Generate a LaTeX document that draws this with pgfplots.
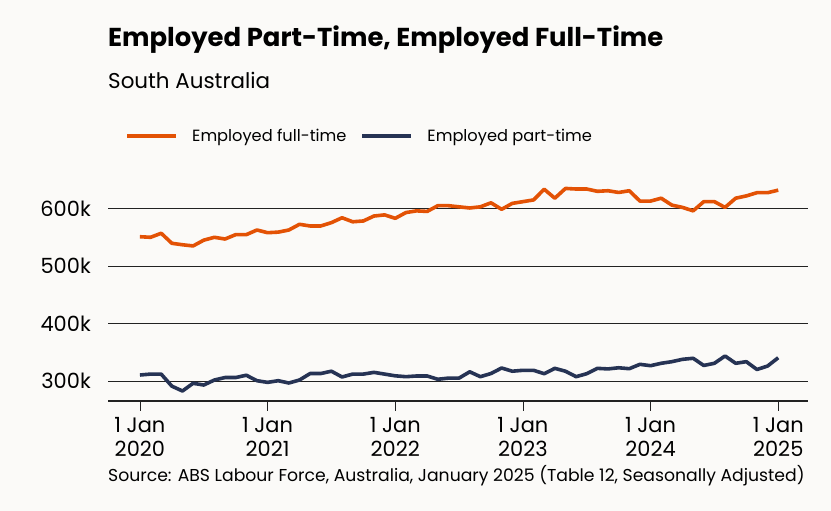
\documentclass[border=0pt]{standalone}
\usepackage{fontspec}
\setmainfont{Poppins}
\usepackage{pgfplots}
\pgfplotsset{compat=1.18}
\definecolor{bg}{HTML}{FBFAF8}
\definecolor{ftc}{HTML}{E35205}
\definecolor{ptc}{HTML}{263354}
\definecolor{gridc}{HTML}{222222}
\pgfplotstableread{
i v
0 551
1 550
2 557
3 539.6
4 537
5 535
6 545
7 550
8 547
9 554.6
10 554.6
11 562.7
12 558
13 559
14 562.7
15 572.6
16 569.7
17 569.7
18 575.5
19 584
20 577
21 578.4
22 587
23 589
24 583
25 593
26 596
27 595
28 605
29 605
30 603
31 601
32 603
33 610
34 598.7
35 609
36 612
37 615
38 633.6
39 618
40 635
41 634
42 634
43 630
44 631
45 628
46 631
47 613
48 613
49 618
50 606
51 602
52 596
53 612
54 612
55 602
56 618
57 622
58 627.6
59 627.6
60 632
}\fulltime
\pgfplotstableread{
i v
0 310.4
1 312
2 312
3 291
4 282.6
5 296
6 293
7 301.7
8 306
9 306
10 310
11 300.5
12 297.6
13 300.5
14 296.5
15 301.7
16 313
17 313
18 317
19 307
20 312
21 312
22 315
23 312
24 309
25 307.5
26 308.7
27 308.7
28 303
29 305
30 305
31 316
32 307.5
33 313
34 322.6
35 317
36 318.6
37 318.6
38 312.7
39 322
40 317
41 307.5
42 312.7
43 322
44 321
45 323
46 321.4
47 329
48 326.6
49 330.8
50 333.6
51 337.7
52 339.5
53 327
54 330.8
55 343.5
56 330.8
57 333.6
58 320
59 326
60 340.5
}\parttime
\begin{document}
\begin{tikzpicture}[x=1bp,y=1bp]
\fill[bg] (0,0) rectangle (831,511);
\node[anchor=base west, inner sep=0, font=\fontsize{26}{30}\selectfont\bfseries] at (108,464) {Employed Part-Time, Employed Full-Time};
\node[anchor=base west, inner sep=0, font=\fontsize{21.5}{25}\selectfont] at (108,422) {South Australia};
\node[anchor=base west, inner sep=0, font=\fontsize{17.3}{20}\selectfont] at (108,29) {Source: ABS Labour Force, Australia, January 2025 (Table 12, Seasonally Adjusted)};
\begin{axis}[
  at={(108bp,110bp)}, anchor=south west,
  scale only axis, width=700bp, height=241bp,
  xmin=-3, xmax=62.8, ymin=265.2, ymax=684.5,
  axis x line*=bottom, axis y line*=left,
  x axis line style={draw=gridc, line width=1.2pt, -},
  y axis line style={draw=none},
  xtick={0,12,24,36,48,60},
  xticklabels={{1 Jan\\2020},{1 Jan\\2021},{1 Jan\\2022},{1 Jan\\2023},{1 Jan\\2024},{1 Jan\\2025}},
  xticklabel style={align=center, font=\fontsize{21}{24}\selectfont, inner sep=0pt, yshift=-6bp},
  x tick style={draw=gridc, line width=0.8pt},
  major tick length=10bp,
  tick align=outside,
  ytick={300,400,500,600},
  yticklabels={300k,400k,500k,600k},
  yticklabel style={font=\fontsize{21}{24}\selectfont, anchor=east, inner sep=0pt, xshift=-7bp},
  y tick style={draw=none},
  ymajorgrids, major grid style={draw=gridc, line width=0.9pt},
  clip=false,
  legend columns=2,
  legend style={at={(0.02,1.10)}, anchor=west, draw=none, fill=none, font=\fontsize{16.3}{19}\selectfont, column sep=12bp},
  legend image code/.code={\draw[#1, line width=4pt] (0bp,0bp) -- (49bp,0bp);},
]
\addplot[ftc, line width=3.6bp, line join=round] table[x=i, y=v] {\fulltime};
\addlegendentry{Employed full-time}
\addplot[ptc, line width=3.6bp, line join=round] table[x=i, y=v] {\parttime};
\addlegendentry{Employed part-time}
\end{axis}
\end{tikzpicture}
\end{document}
